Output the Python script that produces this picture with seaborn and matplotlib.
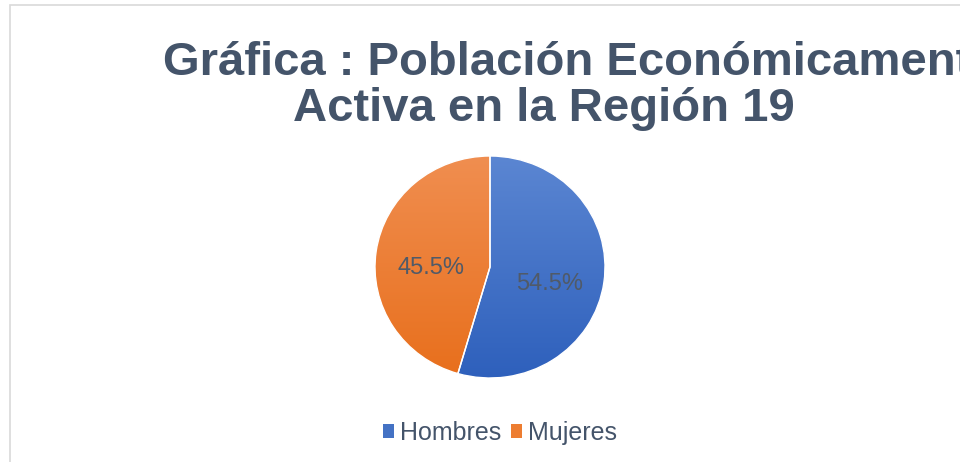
import numpy as np
import matplotlib
matplotlib.use("Agg")
import matplotlib.pyplot as plt
import seaborn as sns
from matplotlib.colors import LinearSegmentedColormap
from matplotlib.patches import Patch, Rectangle

# === Datos ===
categorias = ["Hombres", "Mujeres"]
porcentajes = [54.5, 45.5]
titulo_1 = "Gráfica : Población Económicamente"
titulo_2 = "Activa en la Región 19"

# === Estilo ===
sns.set_theme(style="white")
plt.rcParams["font.family"] = ["Liberation Sans", "DejaVu Sans"]
colores = sns.color_palette(["#4472C4", "#ED7D31"])
gradientes = [("#5B86D2", "#2E60BC"), ("#F08E50", "#E86F1C")]
gris_titulo = "#44546A"

fig = plt.figure(figsize=(9.6, 4.62), dpi=100)
W, H = 960, 462

# marco del gráfico
fig.add_artist(Rectangle((10 / W, -0.1), 2.0, 1 - 5 / H + 0.1, transform=fig.transFigure,
                         fill=False, edgecolor="#D9D9D9", linewidth=1.2))

# === Pastel (ligeramente ovalado como el original) ===
cx, cy, rx, ry = 490, 267, 115, 111
ax = fig.add_axes([(cx - rx) / W, (H - cy - ry) / H, 2 * rx / W, 2 * ry / H])
wedges, texts, autotexts = ax.pie(
    porcentajes, colors=colores, startangle=90, counterclock=False,
    autopct="%1.1f%%", pctdistance=0.52,
    wedgeprops=dict(edgecolor="white", linewidth=1),
    textprops=dict(fontsize=17, color="#505A68"))

grad = np.linspace(0, 1, 256).reshape(-1, 1)
for w, (top, bottom) in zip(wedges, gradientes):
    cmap = LinearSegmentedColormap.from_list("g", [top, bottom])
    im = ax.imshow(grad, cmap=cmap, extent=(-1, 1, -1, 1), aspect="auto",
                   origin="upper", zorder=0.5)
    im.set_clip_path(w)
    w.set_facecolor("none")
    w.set_zorder(2)
for t in autotexts:
    x, y = t.get_position()
    t.set_position((x, y - 0.08))
    t.set_zorder(3)
ax.set_xlim(-1.0, 1.0)
ax.set_ylim(-1.0, 1.0)
ax.set_aspect("auto")
ax.axis("off")

# === Título (la primera línea queda cortada en el borde, como en el original) ===
fig.text(163 / W, 1 - 75 / H, titulo_1, ha="left", va="baseline",
         fontsize=34, fontweight="bold", color=gris_titulo)
fig.text(544 / W, 1 - 121 / H, titulo_2, ha="center", va="baseline",
         fontsize=34, fontweight="bold", color=gris_titulo)

# === Leyenda ===
handles = [Patch(facecolor=c, edgecolor="none") for c in colores]
fig.legend(handles, categorias, loc="center", bbox_to_anchor=(500 / W, 1 - 433 / H),
           ncol=2, frameon=False, fontsize=18, handlelength=0.45, handleheight=0.45,
           handletextpad=0.25, columnspacing=0.35, labelcolor=gris_titulo)

fig.savefig("out.png", dpi=100)
